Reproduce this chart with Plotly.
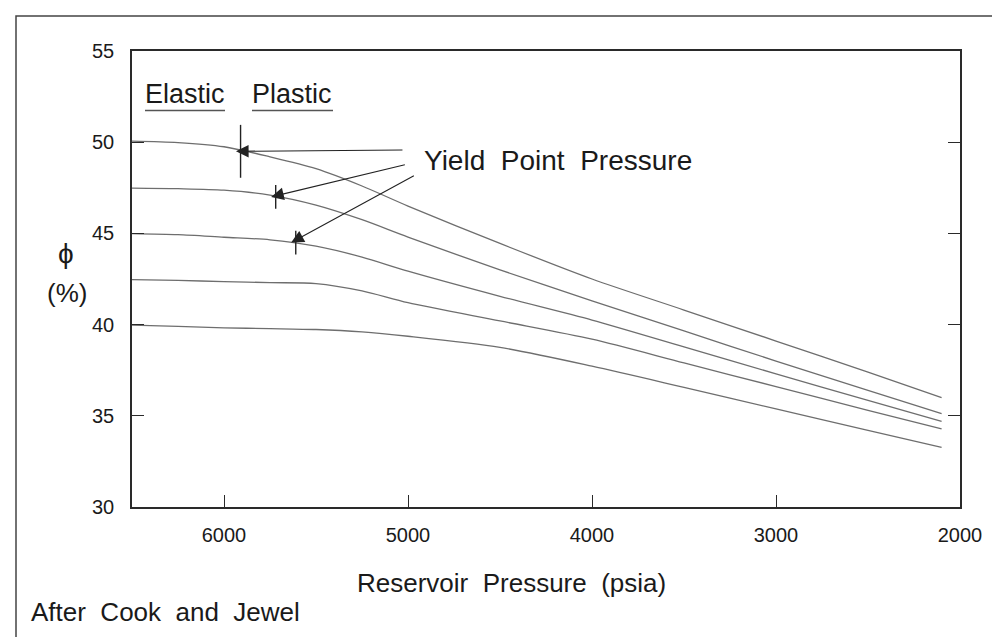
import plotly.graph_objects as go

# ---- data ----
pressure = [6500, 6250, 6000, 5750, 5500, 5250, 5000, 4500, 4000, 3500, 3000, 2500, 2100]
phi_50 = [50.06, 49.98, 49.75, 49.2, 48.55, 47.6, 46.5, 44.45, 42.5, 40.8, 39.1, 37.4, 36.0]
phi_47 = [47.48, 47.45, 47.37, 47.1, 46.55, 45.75, 44.8, 43.0, 41.3, 39.65, 38.0, 36.4, 35.12]
phi_45 = [44.99, 44.93, 44.79, 44.65, 44.3, 43.7, 42.93, 41.55, 40.25, 38.78, 37.3, 35.85, 34.7]
phi_42 = [42.47, 42.42, 42.36, 42.3, 42.25, 41.85, 41.2, 40.2, 39.2, 37.9, 36.6, 35.3, 34.28]
phi_40 = [39.97, 39.9, 39.82, 39.78, 39.73, 39.6, 39.36, 38.75, 37.72, 36.56, 35.38, 34.2, 33.27]

yield_p = [5910, 5719, 5610]
yield_phi = [49.5, 47.0, 44.5]
yield_half = [1.45, 0.65, 0.65]          # half-height of the yield-point tick marks (phi units)
arrow_tail_p = [5022, 5009, 4960]
arrow_tail_phi = [49.57, 48.78, 48.2]

x_ticks = [6000, 5000, 4000, 3000, 2000]
y_ticks = [30, 35, 40, 45, 50, 55]

W, H = 1000, 637
L, R, T, B = 124, 48, 43, 138
PW, PH = W - L - R, H - T - B


def px(xp):
    return (xp - L) / PW


def py(yp):
    return (H - B - yp) / PH


FONT = "Liberation Sans, Arial, Helvetica, sans-serif"
LINE = "#6e6e6e"
AX = "#2a2a2a"
SP = "\u00a0"

fig = go.Figure()
for ys in [phi_50, phi_47, phi_45, phi_42, phi_40]:
    fig.add_trace(go.Scatter(x=pressure, y=ys, mode="lines",
                             line=dict(color=LINE, width=1.3, shape="spline", smoothing=0.8),
                             hoverinfo="skip", showlegend=False))

shapes = []
# yield point tick marks
for p, f, h in zip(yield_p, yield_phi, yield_half):
    shapes.append(dict(type="line", xref="x", yref="y", x0=p, x1=p, y0=f - h, y1=f + h,
                       line=dict(color="#222", width=1.4)))
# outer frame
shapes.append(dict(type="rect", xref="paper", yref="paper", x0=px(8), x1=px(1010),
                   y0=py(660), y1=py(8), line=dict(color="#444", width=1.5)))
# underlines for Elastic / Plastic
shapes.append(dict(type="line", xref="paper", yref="paper", x0=px(137), x1=px(217),
                   y0=py(102.5), y1=py(102.5), line=dict(color="#555", width=1.5)))
shapes.append(dict(type="line", xref="paper", yref="paper", x0=px(244), x1=px(325),
                   y0=py(102.5), y1=py(102.5), line=dict(color="#555", width=1.5)))

annotations = []
for tp, tf, hp, hf in zip(arrow_tail_p, arrow_tail_phi, yield_p, yield_phi):
    annotations.append(dict(x=hp + 25, y=hf, xref="x", yref="y", ax=tp, ay=tf,
                            axref="x", ayref="y", showarrow=True, arrowhead=2,
                            arrowsize=2.3, arrowwidth=1.1, arrowcolor="#222", text=""))

def label(text, x, y, size, xanchor="left"):
    annotations.append(dict(text=text, x=px(x), y=py(y), xref="paper", yref="paper",
                            xanchor=xanchor, yanchor="middle", showarrow=False,
                            font=dict(family=FONT, size=size, color="#1a1a1a")))

label("Yield" + SP * 2 + "Point" + SP * 2 + "Pressure", 414, 152, 28)
label("Elastic", 135, 86, 27)
label("Plastic", 242, 86, 27)
label("\u03d5", 58, 245, 28, "center")
label("(%)", 59, 285, 26, "center")
label("Reservoir" + SP * 2 + "Pressure" + SP * 2 + "(psia)", 503, 575, 26, "center")
label("After" + SP * 2 + "Cook" + SP * 2 + "and" + SP * 2 + "Jewel", 21, 604, 26)

fig.update_layout(
    width=W, height=H, margin=dict(l=L, r=R, t=T, b=B),
    plot_bgcolor="white", paper_bgcolor="white",
    font=dict(family=FONT, size=20, color="#1a1a1a"),
    xaxis=dict(range=[6500, 2000], tickvals=x_ticks, ticktext=[str(v) for v in x_ticks],
               ticks="inside", ticklen=12, tickwidth=1.2, tickcolor=AX,
               showline=True, linecolor=AX, linewidth=1.6, mirror=True,
               showgrid=False, zeroline=False, ticklabelstandoff=9,
               tickfont=dict(size=20)),
    yaxis=dict(range=[30, 55], tickvals=y_ticks, ticktext=[str(v) for v in y_ticks],
               ticks="inside", ticklen=12, tickwidth=1.2, tickcolor=AX,
               showline=True, linecolor=AX, linewidth=1.6, mirror="ticks",
               showgrid=False, zeroline=False, ticklabelstandoff=12,
               tickfont=dict(size=20)),
    shapes=shapes, annotations=annotations,
)

fig.write_html("out.html")
